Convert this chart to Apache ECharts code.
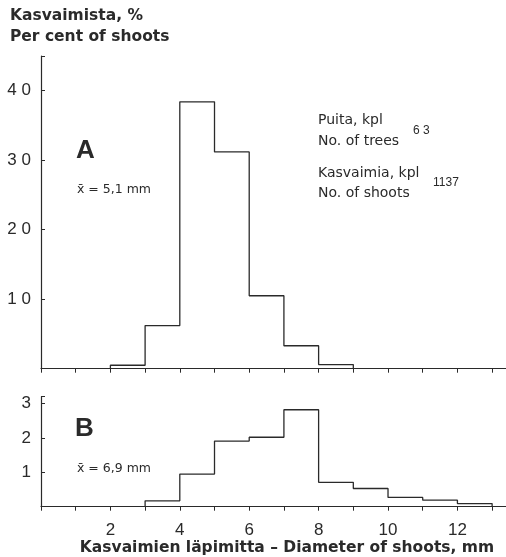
<!DOCTYPE html>
<html><head><meta charset="utf-8">
<script src="https://cdn.jsdelivr.net/npm/echarts@6/dist/echarts.min.js"></script>
<style>html,body{margin:0;padding:0;background:#fff}#c{width:506px;height:557px}</style>
</head><body><div id="c"></div>
<script>
// Bin edges (mm) and percentages
const edgesA = [2, 3, 4, 5, 6, 7, 8, 9];
const valuesA = [0.5, 6.2, 38.4, 31.2, 10.5, 3.3, 0.6];
const edgesB = [3, 4, 5, 6, 7, 8, 9, 10, 11, 12, 13];
const valuesB = [0.17, 0.95, 1.91, 2.02, 2.82, 0.71, 0.53, 0.27, 0.19, 0.09];
const xTickLabels = ['2', '4', '6', '8', '10', '12'];
const yTickLabelsA = ['10', '20', '30', '40'];
const yTickLabelsB = ['1', '2', '3'];

function stepPoints(edges, vals) {
  const pts = [[edges[0], 0]];
  for (let i = 0; i < vals.length; i++) pts.push([edges[i], vals[i]]);
  pts.push([edges[edges.length - 1], 0]);
  return pts;
}

const ink = '#2a2a2a';
const font = 'Liberation Sans, Arial, sans-serif';
const wfont = '"DejaVu Sans", sans-serif';
const chart = echarts.init(document.getElementById('c'));

const xCommon = {
  type: 'value', min: 0, max: 13.4, interval: 1,
  axisLine: {show: true, lineStyle: {color: ink, width: 1.2}},
  axisTick: {show: true, inside: false, length: 4, lineStyle: {color: ink}},
  splitLine: {show: false}
};
const yCommon = {
  type: 'value', min: 0,
  axisLine: {show: true, lineStyle: {color: ink, width: 1.2}},
  axisTick: {show: true, inside: true, length: 4, lineStyle: {color: ink}},
  splitLine: {show: false},
  axisLabel: {color: ink, fontFamily: font, fontSize: 17, margin: 10}
};

function txt(x, y, text, f, align) {
  return {type: 'text', x: x, y: y, style: {text: text, fill: ink, font: f,
    textAlign: align || 'left', textVerticalAlign: 'middle', align: align || 'left', verticalAlign: 'middle'}};
}

chart.setOption({
  animation: false,
  backgroundColor: '#fff',
  grid: [
    {left: 41, right: 0, top: 56, height: 312.7, outerBoundsMode: 'none'},
    {left: 41, right: 0, top: 396.7, height: 110, outerBoundsMode: 'none'}
  ],
  xAxis: [
    Object.assign({}, xCommon, {gridIndex: 0, axisLabel: {show: false}}),
    Object.assign({}, xCommon, {gridIndex: 1,
      axisLabel: {color: ink, fontFamily: font, fontSize: 17, margin: 15,
        formatter: v => xTickLabels.includes(String(v)) ? String(v) : ''}
    })
  ],
  yAxis: [
    Object.assign({}, yCommon, {gridIndex: 0, max: 45, interval: 10,
      axisLabel: Object.assign({}, yCommon.axisLabel, {formatter: v => yTickLabelsA.includes(String(v)) ? v.toString().split('').join(' ') : ''})}),
    Object.assign({}, yCommon, {gridIndex: 1, max: 3.2, interval: 1,
      axisLabel: Object.assign({}, yCommon.axisLabel, {formatter: v => yTickLabelsB.includes(String(v)) ? String(v) : ''})})
  ],
  series: [
    {type: 'line', xAxisIndex: 0, yAxisIndex: 0, step: 'end', symbol: 'none',
     data: stepPoints(edgesA, valuesA), lineStyle: {color: ink, width: 1.3}},
    {type: 'line', xAxisIndex: 1, yAxisIndex: 1, step: 'end', symbol: 'none',
     data: stepPoints(edgesB, valuesB), lineStyle: {color: ink, width: 1.3}}
  ],
  graphic: [
    txt(10, 16, 'Kasvaimista, %', 'bold 15.5px ' + wfont),
    txt(10, 37, 'Per cent of shoots', 'bold 15.5px ' + wfont),
    txt(76, 151, 'A', 'bold 26px ' + font),
    txt(77, 190, 'x̄ = 5,1 mm', '12.5px ' + wfont),
    txt(318, 120, 'Puita, kpl', '14px ' + wfont),
    txt(318, 141, 'No. of trees', '14px ' + wfont),
    txt(413, 131, '6 3', '12px ' + font),
    txt(318, 173, 'Kasvaimia, kpl', '14px ' + wfont),
    txt(318, 193, 'No. of shoots', '14px ' + wfont),
    txt(433, 183, '1137', '12px ' + font),
    txt(75, 429, 'B', 'bold 26px ' + font),
    txt(77, 469, 'x̄ = 6,9 mm', '12.5px ' + wfont),
    txt(287, 548, 'Kasvaimien läpimitta – Diameter of shoots, mm', 'bold 15.5px ' + wfont, 'center')
  ]
});
</script></body></html>
